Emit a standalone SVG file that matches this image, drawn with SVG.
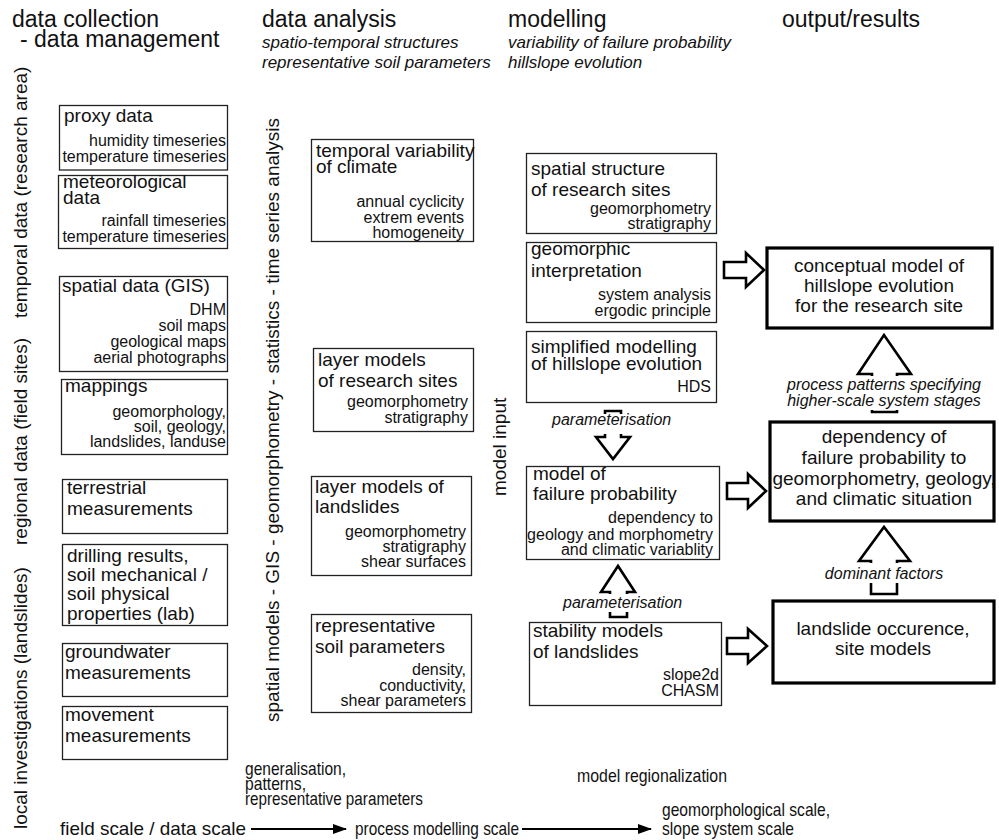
<svg xmlns="http://www.w3.org/2000/svg" width="999" height="840" viewBox="0 0 999 840">
  <style>
    text { font-family: "Liberation Sans", Arial, Helvetica, sans-serif; fill: #111; }
    .h { font-size: 23px; }
    .hi { font-size: 17px; font-style: italic; }
    .side { font-size: 19px; }
    .t { font-size: 19px; }
    .s { font-size: 16px; text-anchor: end; }
    .c { font-size: 19px; text-anchor: middle; }
    .lab { font-size: 16px; font-style: italic; }
    .labc { font-size: 16px; font-style: italic; text-anchor: middle; }
    .narrow { font-size: 19px; }
    .box { fill: #fff; stroke: #222; stroke-width: 1.3; }
    .tbox { fill: #fff; stroke: #000; stroke-width: 3.2; }
    .blk { fill: #fff; stroke: #000; stroke-width: 2.6; stroke-linejoin: miter; }
    .mask { fill: #fff; stroke: none; }
    .scale { stroke: #000; stroke-width: 2; fill: none; }
  </style>
  <defs>
    <marker id="head" markerUnits="userSpaceOnUse" markerWidth="14" markerHeight="10" refX="13" refY="5" orient="auto">
      <path d="M0,0 L14,5 L0,10 Z" fill="#000"/>
    </marker>
  </defs>

  <!-- column headings -->
  <g id="headings">
    <text class="h" x="12" y="27">data collection</text>
    <text class="h" x="20" y="47">- data management</text>
    <text class="h" x="262" y="27">data analysis</text>
    <text class="hi" x="262" y="48">spatio-temporal structures</text>
    <text class="hi" x="262" y="68">representative soil parameters</text>
    <text class="h" x="508" y="27">modelling</text>
    <text class="hi" x="508" y="48">variability of failure probability</text>
    <text class="hi" x="508" y="68">hillslope evolution</text>
    <text class="h" x="782" y="27">output/results</text>
  </g>

  <!-- vertical side labels -->
  <g id="side-labels">
    <text class="side" transform="translate(27,318) rotate(-90)">temporal data (research area)</text>
    <text class="side" transform="translate(27,545) rotate(-90)">regional data (field sites)</text>
    <text class="side" transform="translate(27,829) rotate(-90)">local investigations (landslides)</text>
    <text class="side" transform="translate(279,722) rotate(-90)">spatial models - GIS - geomorphometry - statistics - time series analysis</text>
    <text class="side" transform="translate(506,496) rotate(-90)">model input</text>
  </g>

  <!-- data collection column -->
  <g id="proxy-data">
    <rect class="box" x="59.5" y="105.5" width="168" height="64.5"/>
    <text class="t" x="64" y="122">proxy data</text>
    <text class="s" x="226" y="146">humidity timeseries</text>
    <text class="s" x="226" y="162">temperature timeseries</text>
  </g>
  <g id="meteorological-data">
    <rect class="box" x="58.5" y="175.5" width="169" height="73"/>
    <text class="t" x="63" y="188">meteorological</text>
    <text class="t" x="63" y="204">data</text>
    <text class="s" x="226" y="226">rainfall timeseries</text>
    <text class="s" x="226" y="242">temperature timeseries</text>
  </g>
  <g id="spatial-data">
    <rect class="box" x="59.5" y="276.5" width="168" height="95"/>
    <text class="t" x="62" y="292">spatial data (GIS)</text>
    <text class="s" x="226" y="315">DHM</text>
    <text class="s" x="226" y="331">soil maps</text>
    <text class="s" x="226" y="347">geological maps</text>
    <text class="s" x="226" y="363">aerial photographs</text>
  </g>
  <g id="mappings">
    <rect class="box" x="61.5" y="379.5" width="166" height="75"/>
    <text class="t" x="65" y="392">mappings</text>
    <text class="s" x="226" y="417">geomorphology,</text>
    <text class="s" x="226" y="432">soil, geology,</text>
    <text class="s" x="226" y="447">landslides, landuse</text>
  </g>
  <g id="terrestrial">
    <rect class="box" x="62.5" y="479.5" width="165" height="54"/>
    <text class="t" x="67" y="494">terrestrial</text>
    <text class="t" x="67" y="515">measurements</text>
  </g>
  <g id="drilling">
    <rect class="box" x="62.5" y="544.5" width="165" height="81"/>
    <text class="t" x="67" y="562">drilling results,</text>
    <text class="t" x="67" y="581">soil mechanical /</text>
    <text class="t" x="67" y="600">soil physical</text>
    <text class="t" x="67" y="620">properties (lab)</text>
  </g>
  <g id="groundwater">
    <rect class="box" x="62.5" y="643.5" width="165" height="53"/>
    <text class="t" x="65" y="658">groundwater</text>
    <text class="t" x="65" y="679">measurements</text>
  </g>
  <g id="movement">
    <rect class="box" x="62.5" y="706.5" width="165" height="53"/>
    <text class="t" x="65" y="721">movement</text>
    <text class="t" x="65" y="742">measurements</text>
  </g>

  <!-- data analysis column -->
  <g id="temporal-variability">
    <rect class="box" x="311.5" y="139.5" width="162" height="102"/>
    <text class="t" x="316" y="157">temporal variability</text>
    <text class="t" x="316" y="173">of climate</text>
    <text class="s" x="464" y="207">annual cyclicity</text>
    <text class="s" x="464" y="223">extrem events</text>
    <text class="s" x="464" y="238">homogeneity</text>
  </g>
  <g id="layer-models-sites">
    <rect class="box" x="313.5" y="348.5" width="160" height="83"/>
    <text class="t" x="318" y="366">layer models</text>
    <text class="t" x="318" y="387">of research sites</text>
    <text class="s" x="468" y="407">geomorphometry</text>
    <text class="s" x="468" y="423">stratigraphy</text>
  </g>
  <g id="layer-models-landslides">
    <rect class="box" x="311.5" y="476.5" width="160" height="99"/>
    <text class="t" x="315" y="493">layer models of</text>
    <text class="t" x="315" y="513">landslides</text>
    <text class="s" x="466" y="537">geomorphometry</text>
    <text class="s" x="466" y="552">stratigraphy</text>
    <text class="s" x="466" y="567">shear surfaces</text>
  </g>
  <g id="soil-parameters">
    <rect class="box" x="311.5" y="614.5" width="160" height="98"/>
    <text class="t" x="315" y="632">representative</text>
    <text class="t" x="315" y="653">soil parameters</text>
    <text class="s" x="466" y="675">density,</text>
    <text class="s" x="466" y="691">conductivity,</text>
    <text class="s" x="466" y="706">shear parameters</text>
  </g>

  <!-- modelling column -->
  <g id="spatial-structure">
    <rect class="box" x="526.5" y="153.5" width="190" height="80"/>
    <text class="t" x="531" y="175">spatial structure</text>
    <text class="t" x="531" y="196">of research sites</text>
    <text class="s" x="711" y="214">geomorphometry</text>
    <text class="s" x="711" y="229">stratigraphy</text>
  </g>
  <g id="geomorphic-interpretation">
    <rect class="box" x="526.5" y="242.5" width="190" height="80"/>
    <text class="t" x="531" y="255">geomorphic</text>
    <text class="t" x="531" y="277">interpretation</text>
    <text class="s" x="711" y="300">system analysis</text>
    <text class="s" x="711" y="316">ergodic principle</text>
  </g>
  <g id="simplified-modelling">
    <rect class="box" x="526.5" y="331.5" width="190" height="71"/>
    <text class="t" x="531" y="353">simplified modelling</text>
    <text class="t" x="531" y="370">of hillslope evolution</text>
    <text class="s" x="711" y="392">HDS</text>
  </g>
  <g id="failure-probability-model">
    <rect class="box" x="526.5" y="466.5" width="193" height="93"/>
    <text class="t" x="533" y="480">model of</text>
    <text class="t" x="533" y="500">failure probability</text>
    <text class="s" x="713" y="523">dependency to</text>
    <text class="s" x="713" y="540">geology and morphometry</text>
    <text class="s" x="713" y="555">and climatic variablity</text>
  </g>
  <g id="stability-models">
    <rect class="box" x="529.5" y="622.5" width="192" height="83"/>
    <text class="t" x="533" y="637">stability models</text>
    <text class="t" x="533" y="658">of landslides</text>
    <text class="s" x="719" y="680">slope2d</text>
    <text class="s" x="719" y="696">CHASM</text>
  </g>

  <!-- output column -->
  <g id="conceptual-model">
    <rect class="tbox" x="767" y="248" width="225" height="80"/>
    <text class="c" x="879" y="272">conceptual model of</text>
    <text class="c" x="879" y="292">hillslope evolution</text>
    <text class="c" x="879" y="312">for the research site</text>
  </g>
  <g id="failure-dependency">
    <rect class="tbox" x="770" y="422" width="224" height="99"/>
    <text class="c" x="884" y="443">dependency of</text>
    <text class="c" x="884" y="464">failure probability to</text>
    <text class="c" x="884" y="485">geomorphometry, geology,</text>
    <text class="c" x="884" y="505">and climatic situation</text>
  </g>
  <g id="landslide-occurence">
    <rect class="tbox" x="773" y="601" width="221" height="82"/>
    <text class="c" x="883" y="635">landslide occurence,</text>
    <text class="c" x="883" y="655">site models</text>
  </g>

  <!-- connectors: hollow block arrows and scale arrows -->
  <g id="connectors">
    <!-- modelling to results -->
    <polygon class="blk" points="724,262 746,262 746,253 764,270 746,287 746,278 724,278"/>
    <polygon class="blk" points="727,483 748,483 748,474 766,491 748,508 748,499 727,499"/>
    <polygon class="blk" points="727,638 748,638 748,629 767,646 748,663 748,654 727,654"/>

    <!-- hillslope model parameterises failure model -->
    <polygon class="blk" points="605,411 621,411 621,437 630,437 613,459 596,437 605,437"/>
    <rect class="mask" x="548" y="414" width="130" height="20"/>
    <text class="lab" x="552" y="425">parameterisation</text>

    <!-- stability models parameterise failure model -->
    <polygon class="blk" points="610,617 610,592 601,592 618,566 635,592 627,592 627,617"/>
    <rect class="mask" x="560" y="594" width="130" height="18"/>
    <text class="lab" x="563" y="608">parameterisation</text>

    <!-- results hierarchy -->
    <polygon class="blk" points="872,412 872,374 858,374 884,335 911,374 897,374 897,412"/>
    <rect class="mask" x="784" y="376" width="202" height="34"/>
    <text class="labc" x="884" y="390">process patterns specifying</text>
    <text class="labc" x="884" y="406">higher-scale system stages</text>

    <polygon class="blk" points="871,594 871,561 859,561 884,527 910,561 897,561 897,594"/>
    <rect class="mask" x="815" y="563" width="138" height="20"/>
    <text class="labc" x="884" y="579">dominant factors</text>

    <!-- scale progression -->
    <line class="scale" x1="251" y1="829" x2="346" y2="829" marker-end="url(#head)"/>
    <line class="scale" x1="522" y1="829" x2="651" y2="829" marker-end="url(#head)"/>
  </g>

  <!-- scale annotations -->
  <g id="scale-notes">
    <text class="narrow" x="245" y="775" textLength="101" lengthAdjust="spacingAndGlyphs">generalisation,</text>
    <text class="narrow" x="245" y="790" textLength="61" lengthAdjust="spacingAndGlyphs">patterns,</text>
    <text class="narrow" x="245" y="805" textLength="178" lengthAdjust="spacingAndGlyphs">representative parameters</text>
    <text class="narrow" x="577" y="782" textLength="150" lengthAdjust="spacingAndGlyphs">model regionalization</text>
    <text class="narrow" x="60" y="835" textLength="186" lengthAdjust="spacingAndGlyphs">field scale / data scale</text>
    <text class="narrow" x="355" y="835" textLength="164" lengthAdjust="spacingAndGlyphs">process modelling scale</text>
    <text class="narrow" x="662" y="816" textLength="168" lengthAdjust="spacingAndGlyphs">geomorphological scale,</text>
    <text class="narrow" x="662" y="835" textLength="132" lengthAdjust="spacingAndGlyphs">slope system scale</text>
  </g>
</svg>
